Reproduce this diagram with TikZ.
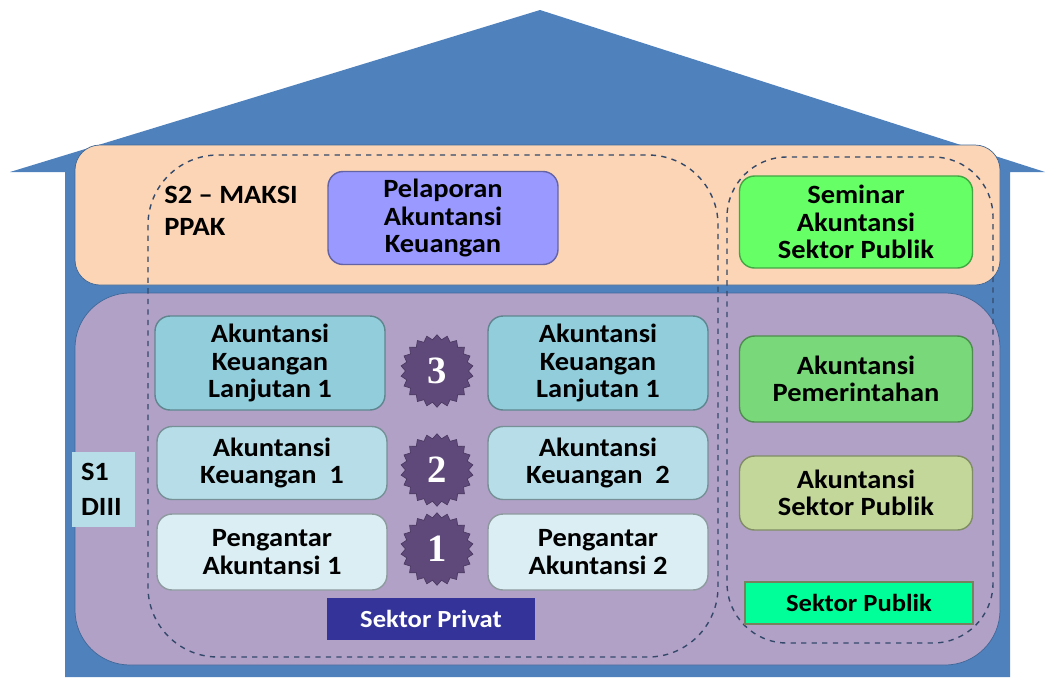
\documentclass[tikz,border=0pt]{standalone}
\usepackage{fontspec}
\setmainfont[FakeStretch=1.08]{Carlito}
\newfontfamily\numfont{Liberation Serif}
\usepackage{tikz}
\usetikzlibrary{shapes.geometric}

\definecolor{housblue}{HTML}{4F81BD}
\definecolor{peach}{HTML}{FBD5B5}
\definecolor{lilac}{HTML}{B2A1C7}
\definecolor{dashline}{HTML}{34496A}
\definecolor{starfill}{HTML}{5F497A}
\definecolor{repfill}{HTML}{9999FF}
\definecolor{semfill}{HTML}{66FF66}
\definecolor{advfill}{HTML}{92CDDC}
\definecolor{midfill}{HTML}{B7DEE8}
\definecolor{basefill}{HTML}{DAEEF3}
\definecolor{govfill}{HTML}{79D879}
\definecolor{pubfill}{HTML}{C4D79B}
\definecolor{privfill}{HTML}{333399}
\definecolor{tagfill}{HTML}{00FF99}

\begin{document}
\begin{tikzpicture}[
    x=0.02cm, y=-0.02cm, % one unit is one pixel of the reference, y grows downwards
    every node/.style={
        align=center, % Center text within nodes
        font=\bfseries\fontsize{15}{15.5}\selectfont, % Bold sans, like the slide
        inner sep=0pt
    },
    course/.style={
        draw=#1!65!black, % Border a bit darker than the fill
        fill=#1,
        rounded corners=0.3cm,
        line width=0.8pt
    },
    tag/.style={
        fill=#1,
        font=\bfseries\fontsize{14}{15}\selectfont
    },
    badge/.style={
        star, star points=22, star point ratio=1.15,
        draw=starfill!80!black, fill=starfill,
        minimum size=1.45cm,
        text=white, font=\numfont\bfseries\fontsize{22}{22}\selectfont
    },
    zone/.style={
        draw=dashline, dashed, line width=0.8pt
    }
]
\useasboundingbox (0,0) rectangle (1051,677);

% the house
\fill[housblue] (65,677) -- (65,172) -- (10,172) -- (540,10) -- (1045,172)
    -- (1010,172) -- (1010,677) -- cycle;

% the two floors
\draw[fill=peach, draw=housblue!80!black, rounded corners=0.5cm] (75,145) rectangle (1000,285);
\draw[fill=lilac, draw=housblue!80!black, rounded corners=1.1cm] (75,293) rectangle (1000,665);

% dashed regions
\draw[zone, rounded corners=1.4cm] (148,155) rectangle (718,657);
\draw[zone, rounded corners=1.2cm] (727,157) rectangle (993,643);

% top floor
\node[anchor=north west, align=left, font=\bfseries\fontsize{15}{18}\selectfont] (s-two) at (164,186) {S2 -- MAKSI\\PPAK};
\node[course=repfill, minimum width=4.6cm, minimum height=1.86cm] (pelaporan) at (443,218) {Pelaporan\\Akuntansi\\Keuangan};
\node[course=semfill, minimum width=4.66cm, minimum height=1.84cm] (seminar) at (856,222) {Seminar\\Akuntansi\\Sektor Publik};

% private sector
\node[course=advfill, minimum width=4.6cm, minimum height=1.88cm] (akl-left) at (270,363) {Akuntansi\\Keuangan\\Lanjutan 1};
\node[course=advfill, minimum width=4.4cm, minimum height=1.88cm] (akl-right) at (598,363) {Akuntansi\\Keuangan\\Lanjutan 1};
\node[course=midfill, minimum width=4.6cm, minimum height=1.46cm] (ak-one) at (272,463) {Akuntansi\\Keuangan~ 1};
\node[course=midfill, minimum width=4.4cm, minimum height=1.46cm] (ak-two) at (598,463) {Akuntansi\\Keuangan~ 2};
\node[course=basefill, minimum width=4.6cm, minimum height=1.52cm] (pa-one) at (272,552) {Pengantar\\Akuntansi 1};
\node[course=basefill, minimum width=4.4cm, minimum height=1.52cm] (pa-two) at (598,552) {Pengantar\\Akuntansi 2};

% level badges
\node[badge] (lvl-three) at (437,371) {3};
\node[badge] (lvl-two) at (437,470) {2};
\node[badge] (lvl-one) at (437,549) {1};

% public sector
\node[course=govfill, minimum width=4.66cm, minimum height=1.72cm] (pemerintahan) at (856,379) {Akuntansi\\Pemerintahan};
\node[course=pubfill, minimum width=4.66cm, minimum height=1.48cm] (asp) at (856,493) {Akuntansi\\Sektor Publik};

% sector labels
\node[tag=privfill, text=white, minimum width=4.16cm, minimum height=0.84cm] (privat) at (431,619) {Sektor Privat};
\node[tag=tagfill, draw=pubfill!60!black, line width=0.8pt, minimum width=4.56cm, minimum height=0.84cm] (publik) at (859,603) {Sektor Publik};

% S1 / DIII label
\node[fill=midfill, align=left, minimum width=1.26cm, minimum height=1.5cm, text width=0.9cm, font=\bfseries\fontsize{15}{20}\selectfont] (s-one) at (103.5,489.5) {S1\\DIII};
\end{tikzpicture}
\end{document}
